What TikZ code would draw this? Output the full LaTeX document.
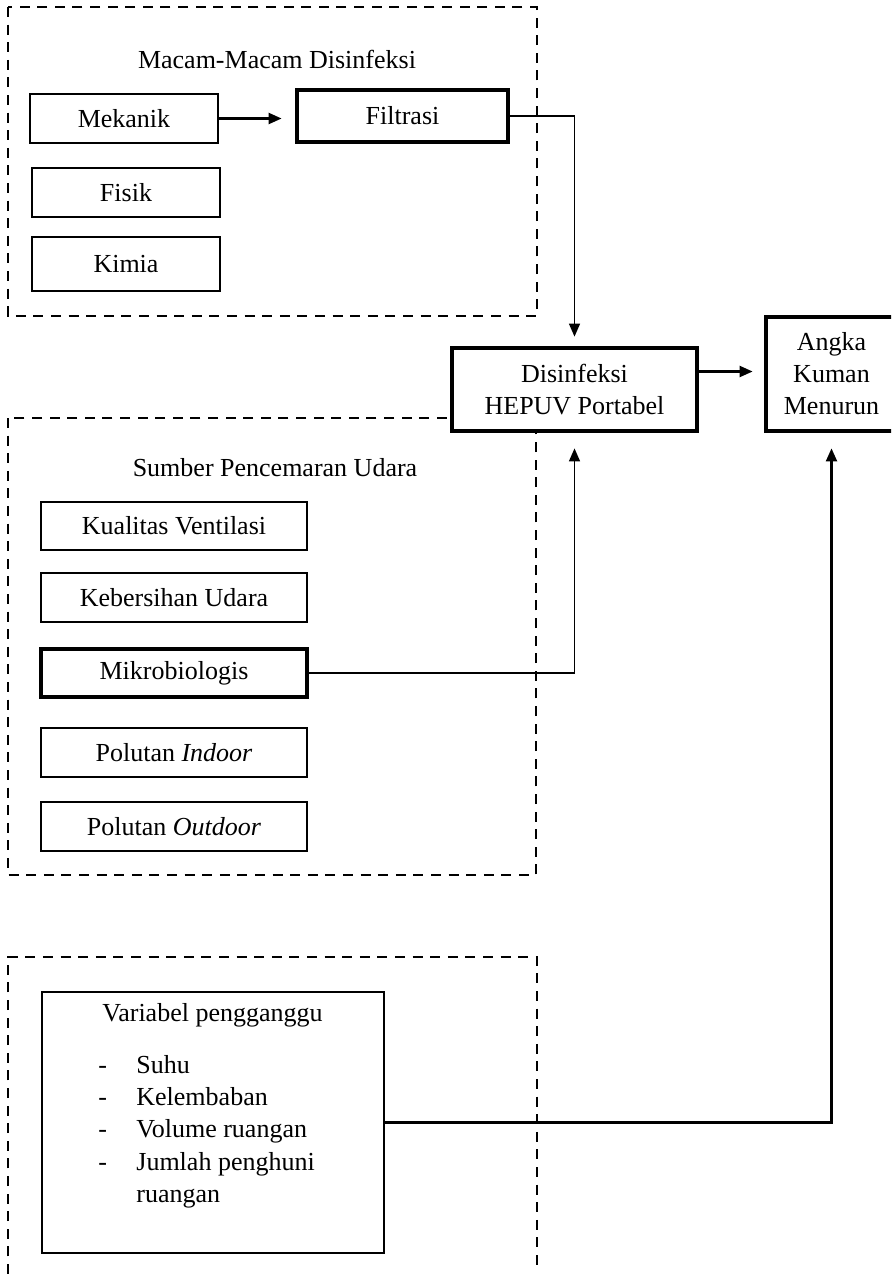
\documentclass[tikz,border=0pt]{standalone}
\usepackage{fontspec}
\setmainfont{Liberation Serif}
\usetikzlibrary{arrows.meta}
\begin{document}
\begin{tikzpicture}[x=0.5pt,y=-0.5pt,
  every node/.style={font=\fontsize{13pt}{16pt}\selectfont, inner sep=0pt},
  box/.style={draw, line width=0.75pt, minimum width=94pt, minimum height=24.5pt, align=center},
  widebox/.style={box, minimum width=133pt},
  thickbox/.style={draw, line width=2.4pt, fill=white, align=center},
  dashbox/.style={draw, line width=1pt, dash pattern=on 5pt off 3.8pt},
  conn/.style={line width=1.1pt, -{Triangle[length=6.5pt,width=5.5pt]}},
  thinconn/.style={line width=0.7pt, -{Triangle[length=6.5pt,width=5.5pt]}}]
\useasboundingbox (0,0) rectangle (891,1274);
\clip (0,0) rectangle (891,1274);
\fill[white] (0,0) rectangle (891,1274);

% dashed group frames
\draw[dashbox] (8,7) rectangle (537,316);
\draw[dashbox] (8,418) rectangle (536,875);
\draw[dashbox] (8,1274) -- (8,957) -- (537,957) -- (537,1268);

% group 1
\node (t1) at (277,59) {Macam-Macam Disinfeksi};
\node[box] (mek) at (124,118.5) {Mekanik};
\node[thickbox, minimum width=105.5pt, minimum height=26pt] (filt) at (402.5,116) {Filtrasi};
\node[box] (fis) at (126,192.5) {Fisik};
\node[box, minimum height=27pt] (kim) at (126,264) {Kimia};

% central boxes
\node[thickbox, minimum width=122.5pt, minimum height=41.5pt] (dis) at (574.5,389.5) {Disinfeksi\\HEPUV Portabel};
\node[thickbox, minimum width=65.5pt, minimum height=57pt] (ang) at (831.5,374) {Angka\\Kuman\\Menurun};

% group 2
\node (t2) at (275,468) {Sumber Pencemaran Udara};
\node[widebox, minimum height=24pt] (kua) at (174,526) {Kualitas Ventilasi};
\node[widebox] (keb) at (174,597.5) {Kebersihan Udara};
\node[thickbox, minimum width=133pt, minimum height=24pt] (mik) at (174,673) {Mikrobiologis};
\node[widebox] (pin) at (174,752.5) {Polutan \textit{Indoor}};
\node[widebox] (pout) at (174,826.5) {Polutan \textit{Outdoor}};

% group 3
\node[draw, line width=0.8pt, minimum width=171pt, minimum height=130.5pt] (var) at (213,1122.5) {};
\node (vt) at (212.5,1015) {Variabel pengganggu};
\node[anchor=base west] (d1) at (98,1073) {-};
\node[anchor=base west] (i1) at (136,1073) {Suhu};
\node[anchor=base west] (d2) at (98,1105) {-};
\node[anchor=base west] (i2) at (136,1105) {Kelembaban};
\node[anchor=base west] (d3) at (98,1137) {-};
\node[anchor=base west] (i3) at (136,1137) {Volume ruangan};
\node[anchor=base west] (d4) at (98,1170) {-};
\node[anchor=base west] (i4) at (136,1170) {Jumlah penghuni};
\node[anchor=base west] (i5) at (136,1202) {ruangan};

% connectors
\draw[conn, shorten >=6.5pt] (mek.east) -- (mek.east -| filt.west);
\draw[thinconn, shorten >=4.5pt] (filt.east) -| (dis.north);
\draw[thinconn, shorten >=7.5pt] (mik.east) -| (dis.south);
\draw[conn, shorten >=5.5pt] ([yshift=9pt]dis.east) -- ([yshift=9pt]dis.east -| ang.west);
\draw[conn, shorten >=7.5pt] (var.east) -| (ang.south);
\end{tikzpicture}
\end{document}
